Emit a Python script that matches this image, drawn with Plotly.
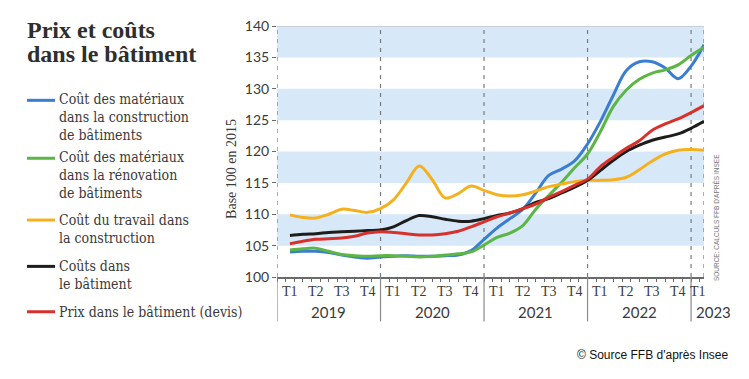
import plotly.graph_objects as go

# The page body adds an 8px margin; work in reference-pixel coordinates and shift.
OFF = 8
W, H = 749 - 2 * OFF, 379 - 2 * OFF
PLOT_L, PLOT_R, PLOT_T, PLOT_B = 277, 704, 17, 277  # plot area in reference pixels
L, T = PLOT_L - OFF, PLOT_T - OFF
R, B = W - (PLOT_R - OFF), H - (PLOT_B - OFF)
PW, PH = W - L - R, H - T - B

# ---- data (x in quarters since 2019 T1 start) ----
x_q = [0.5, 1.0, 1.5, 2.0, 2.5, 3.0, 3.5, 4.0, 4.5, 5.0, 5.5, 6.0, 6.5, 7.0, 7.5, 8.0,
       8.5, 9.0, 9.5, 10.0, 10.5, 11.0, 11.5, 12.0, 12.5, 13.0, 13.5, 14.0, 14.5, 15.0,
       15.5, 16.0, 16.5]

mat_construction = [104.0, 104.1, 104.1, 103.9, 103.5, 103.2, 103.0, 103.2, 103.3, 103.4,
                    103.3, 103.3, 103.4, 103.5, 104.2, 106.0, 107.8, 109.3, 110.8, 113.4,
                    116.2, 117.2, 118.5, 121.2, 124.8, 129.0, 132.9, 134.3, 134.3, 133.3,
                    131.6, 133.6, 137.0]
mat_renovation = [104.3, 104.5, 104.6, 104.1, 103.6, 103.4, 103.3, 103.4, 103.4, 103.3,
                  103.2, 103.3, 103.5, 103.7, 104.0, 105.1, 106.3, 107.0, 108.2, 110.8,
                  113.0, 115.1, 117.4, 119.6, 123.2, 127.2, 129.8, 131.5, 132.5, 133.0,
                  133.8, 135.3, 136.6]
travail = [109.9, 109.5, 109.4, 110.0, 110.8, 110.6, 110.3, 110.9, 112.3, 115.0,
           117.7, 115.5, 112.6, 113.3, 114.5, 113.8, 113.1, 112.9, 113.1, 113.7,
           114.4, 114.8, 115.2, 115.4, 115.4, 115.5, 115.9, 117.1, 118.5, 119.6,
           120.2, 120.3, 120.2]
couts = [106.6, 106.8, 106.9, 107.1, 107.2, 107.3, 107.4, 107.5, 108.0, 109.0,
         109.8, 109.6, 109.2, 108.9, 108.9, 109.3, 109.8, 110.2, 110.9, 111.9,
         112.5, 113.4, 114.3, 115.4, 117.0, 118.6, 120.0, 121.0, 121.8, 122.3,
         122.8, 123.7, 124.8]
prix = [105.3, 105.7, 106.0, 106.1, 106.2, 106.5, 107.0, 107.2, 107.1, 106.9,
        106.7, 106.7, 106.9, 107.3, 108.0, 108.8, 109.6, 110.2, 110.9, 111.6,
        112.7, 113.6, 114.6, 115.6, 117.6, 119.1, 120.5, 121.7, 123.4, 124.4,
        125.2, 126.2, 127.3]

quarter_labels = ["T1", "T2", "T3", "T4"]
years = ["2019", "2020", "2021", "2022", "2023"]
y_ticks = [100, 105, 110, 115, 120, 125, 130, 135, 140]

series = [
    ("Coût des matériaux<br>dans la construction<br>de bâtiments", mat_construction, "#3b7dd0", 94, 111),
    ("Coût des matériaux<br>dans la rénovation<br>de bâtiments", mat_renovation, "#5cb646", 154, 171),
    ("Coût du travail dans<br>la construction", travail, "#f4b11d", 218, 227),
    ("Coûts dans<br>le bâtiment", couts, "#1d1d1b", 266, 275),
    ("Prix dans le bâtiment (devis)", prix, "#d8302a", 313, 313),
]


def px2x(px):
    return (px - OFF - L) / PW


def py2y(py):
    return (H - B - (py - OFF)) / PH


TXT = "#3a3a3a"
SERIF = "Liberation Serif"
LEG_FONT = "DejaVu Serif Condensed, DejaVu Serif"

fig = go.Figure()
for name, vals, col, _, _ in series:
    fig.add_trace(go.Scatter(x=x_q, y=vals, mode="lines", name=name.replace("<br>", " "),
                             line=dict(color=col, width=3, shape="spline", smoothing=1.0),
                             showlegend=False, hoverinfo="skip"))

shapes = []
for y0 in [105, 115, 125, 135]:
    shapes.append(dict(type="rect", xref="x", yref="y", x0=0, x1=16.5, y0=y0, y1=y0 + 5,
                       fillcolor="#d7e9f8", line_width=0, layer="below"))
shapes.append(dict(type="line", xref="x", yref="y", x0=0, x1=16.5, y0=140, y1=140,
                   line=dict(color="#b5b5b5", width=1.2), layer="below"))
for xv in [0, 4, 8, 12, 16, 16.5]:
    shapes.append(dict(type="line", xref="x", yref="y", x0=xv, x1=xv, y0=100, y1=140,
                       line=dict(color="#7a7a7a", width=1.2, dash="4px,5px"), layer="below"))
for xv in [0, 4, 8, 12, 16]:
    shapes.append(dict(type="line", xref="x", yref="paper", x0=xv, x1=xv, y0=0, y1=py2y(323),
                       line=dict(color="#8a8a8a", width=1.2), layer="above"))
for name, vals, col, ysw, ytxt in series:
    shapes.append(dict(type="line", xref="paper", yref="paper", x0=px2x(27), x1=px2x(55),
                       y0=py2y(ysw), y1=py2y(ysw), line=dict(color=col, width=3)))

annotations = []
annotations.append(dict(xref="paper", yref="paper", x=px2x(25), y=py2y(21), xanchor="left",
                        yanchor="middle", showarrow=False, text="<b>Prix et coûts</b>",
                        font=dict(family=SERIF, size=24, color="#2e2e2e")))
annotations.append(dict(xref="paper", yref="paper", x=px2x(25), y=py2y(46), xanchor="left",
                        yanchor="middle", showarrow=False, text="<b>dans le bâtiment</b>",
                        font=dict(family=SERIF, size=24, color="#2e2e2e")))
for name, vals, col, ysw, ytxt in series:
    annotations.append(dict(xref="paper", yref="paper", x=px2x(57), y=py2y(ytxt),
                            xanchor="left", yanchor="middle", align="left", showarrow=False,
                            text=name, font=dict(family=LEG_FONT, size=14, color=TXT)))
for yi in range(4):
    for qi, ql in enumerate(quarter_labels):
        annotations.append(dict(xref="x", yref="paper", x=yi * 4 + qi + 0.5, y=py2y(292),
                                xanchor="center", yanchor="middle", showarrow=False, text=ql,
                                font=dict(family=SERIF, size=14, color=TXT)))
annotations.append(dict(xref="paper", yref="paper", x=px2x(698), y=py2y(292), xanchor="center",
                        yanchor="middle", showarrow=False, text="T1",
                        font=dict(family=SERIF, size=14, color=TXT)))
for yi, yr in enumerate(years[:4]):
    annotations.append(dict(xref="x", yref="paper", x=yi * 4 + 2, y=py2y(313), xanchor="center",
                            yanchor="middle", showarrow=False, text=yr,
                            font=dict(family="Lato", size=15, color=TXT)))
annotations.append(dict(xref="paper", yref="paper", x=px2x(713), y=py2y(313), xanchor="center",
                        yanchor="middle", showarrow=False, text=years[4],
                        font=dict(family="Lato", size=15, color=TXT)))
annotations.append(dict(xref="paper", yref="paper", x=px2x(232), y=py2y(165), xanchor="center",
                        yanchor="middle", showarrow=False, text="Base 100 en 2015", textangle=-90,
                        font=dict(family=SERIF, size=14, color=TXT)))
annotations.append(dict(xref="paper", yref="paper", x=px2x(716), y=py2y(216), xanchor="center",
                        yanchor="middle", showarrow=False, text="SOURCE: CALCULS FFB D'APRÈS INSEE",
                        textangle=-90, font=dict(family="Liberation Sans", size=6.5, color="#777")))
annotations.append(dict(xref="paper", yref="paper", x=px2x(731), y=py2y(358), xanchor="right",
                        yanchor="middle", showarrow=False, text="© Source FFB d'après Insee",
                        font=dict(family="Liberation Sans", size=12, color="#111")))

fig.update_layout(
    width=W, height=H, margin=dict(l=L, r=R, t=T, b=B, pad=0),
    paper_bgcolor="white", plot_bgcolor="white",
    shapes=shapes, annotations=annotations,
    xaxis=dict(range=[0, 16.5], showgrid=False, zeroline=False, showline=True,
               linecolor="#6a6a6a", linewidth=1.5, ticks="outside", tick0=0, dtick=1 / 3,
               ticklen=3, tickcolor="#6a6a6a", tickwidth=1, showticklabels=False, fixedrange=True),
    yaxis=dict(range=[100, 140], showgrid=False, zeroline=False, showline=False,
               tickvals=y_ticks, ticks="outside", ticklen=4, tickcolor="#6a6a6a",
               ticklabeloverflow="allow",
               tickfont=dict(family="Lato", size=14, color=TXT), fixedrange=True),
)

fig.write_html("out.html")
